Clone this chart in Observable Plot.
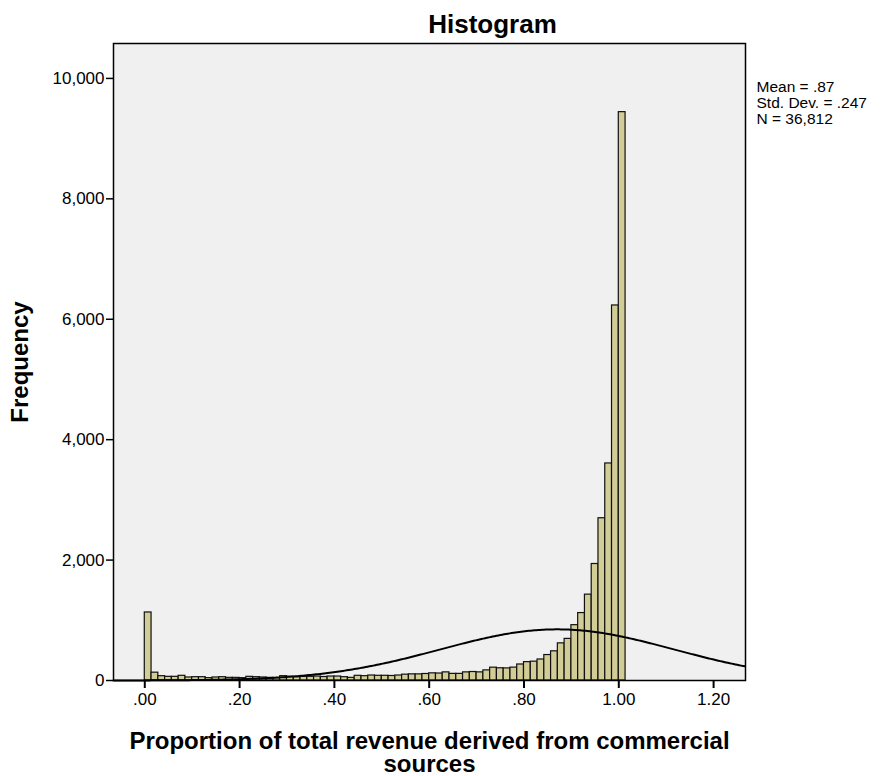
<!DOCTYPE html>
<html>
<head>
<meta charset="utf-8">
<script src="https://cdn.jsdelivr.net/npm/d3@7"></script>
<script src="https://cdn.jsdelivr.net/npm/@observablehq/plot@0.6"></script>
<style>
  html, body { margin: 0; padding: 0; background: #ffffff; }
</style>
</head>
<body>
<div id="chart"></div>
<script>
// ---- Data ----
const binStart = 0;
const binWidth = 1 / 70;
const counts = [
  1130, 130, 72, 61, 61, 78, 50, 55, 55, 39,
  50, 55, 44, 44, 39, 61, 55, 50, 44, 39,
  72, 61, 55, 61, 61, 66, 58, 66, 66, 55,
  44, 78, 72, 83, 78, 78, 75, 83, 97, 102,
  102, 108, 119, 116, 135, 110, 110, 135, 141, 135,
  168, 213, 203, 201, 214, 266, 305, 313, 349, 423,
  485, 617, 691, 919, 1120, 1426, 1935, 2695, 3605, 6229,
  9440
];
const statMean = 0.87;
const statSD = 0.247;
const statN = 36812;
const statLabels = ["Mean = .87", "Std. Dev. = .247", "N = 36,812"];
const xTicks = [0, 0.2, 0.4, 0.6, 0.8, 1.0, 1.2];
const yTicks = [0, 2000, 4000, 6000, 8000, 10000];
const xDomain = [-0.066, 1.2673];
const yDomain = [0, 10580];

const titleText = "Histogram";
const xLabelLines = ["Proportion of total revenue derived from commercial", "sources"];
const yLabelText = "Frequency";

// ---- Derived tables ----
const bins = counts.map((c, i) => ({
  x1: binStart + i * binWidth,
  x2: binStart + (i + 1) * binWidth,
  count: c
}));

// Fitted normal curve (SPSS overlay) from the stated mean, SD and N
const curve = d3.range(xDomain[0], xDomain[1] + 0.0001, 0.004).map(x => ({
  x,
  y: statN * binWidth * Math.exp(-0.5 * ((x - statMean) / statSD) ** 2) / (statSD * Math.sqrt(2 * Math.PI))
}));

const font = "'Liberation Sans', Arial, Helvetica, sans-serif";
const fmtX = d => d3.format(".2f")(d).replace(/^0/, "");

const chart = Plot.plot({
  width: 884,
  height: 776,
  marginLeft: 113,
  marginRight: 139,
  marginTop: 43,
  marginBottom: 96,
  style: { fontFamily: font, fontSize: "16px", background: "#ffffff", color: "#000" },
  x: { domain: xDomain, label: null },
  y: { domain: yDomain, label: null },
  marks: [
    Plot.frame({ fill: "#f0f0f0" }),
    Plot.rectY(bins, { x1: "x1", x2: "x2", y: "count", fill: "#d2cc96", stroke: "#111", strokeWidth: 1.2 }),
    Plot.line(curve, { x: "x", y: "y", stroke: "#000", strokeWidth: 2 }),
    Plot.frame({ stroke: "#000", strokeWidth: 1.5 }),
    Plot.axisX({ ticks: xTicks, tickFormat: fmtX, tickSize: 8, tickPadding: 4, fontSize: 17, label: null, strokeWidth: 2 }),
    Plot.axisY({ ticks: yTicks, tickFormat: d3.format(","), tickSize: 7, tickPadding: 2, fontSize: 17, label: null, strokeWidth: 1.5 }),
    Plot.text([titleText], { frameAnchor: "top", lineAnchor: "middle", dx: 63, dy: -19, fontSize: 26, fontWeight: "bold" }),
    Plot.text([statLabels.join("\n")], { frameAnchor: "top-right", dx: 11, dy: 37, textAnchor: "start", lineAnchor: "top", fontSize: 15.5, lineHeight: 1.03 }),
    Plot.text([yLabelText], { frameAnchor: "left", textAnchor: "middle", lineAnchor: "middle", dx: -93, rotate: -90, fontSize: 24, fontWeight: "bold" }),
    Plot.text([xLabelLines.join("\n")], { frameAnchor: "bottom", lineAnchor: "middle", dy: 73, fontSize: 24, lineHeight: 0.94, fontWeight: "bold" })
  ]
});

document.getElementById("chart").appendChild(chart);
</script>
</body>
</html>
